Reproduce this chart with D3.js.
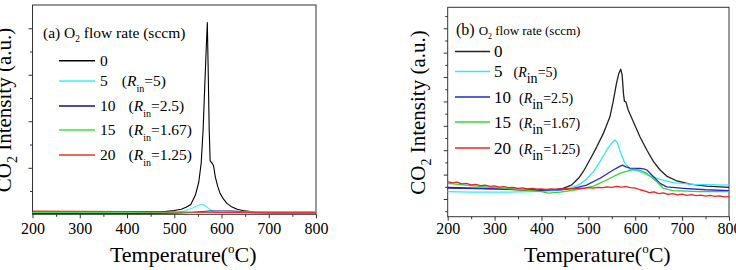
<!DOCTYPE html>
<html lang="en">
<head>
  <meta charset="UTF-8">
  <script src="https://cdn.jsdelivr.net/npm/d3@7"></script>
  <style>
    body { margin: 0; background: #fff; }
    svg, text, tspan { font-family: "Liberation Serif", "Times New Roman", serif; }
    text { fill: #000; }
  </style>
  <title>CO2 TPO</title>
</head>
<body>
<svg class="svg" width="736" height="270" font-family="Liberation Serif"></svg>
<script>
  // ---- data: [temperature, intensity] ----
  const flowRates = ["0", "5", "10", "15", "20"]
  const rinLabels = [null, "5", "2.5", "1.67", "1.25"]
  const tempTicks = [200, 300, 400, 500, 600, 700, 800]

  // panel (a)
  const a0 = [[200,0.05],[300,0.05],[400,0.05],[480,0.06],[500,0.08],[515,0.11],[525,0.15],[535,0.21],[545,0.42],[552,0.7],
    [557,1.1],[561,1.8],[564,2.6],[567,3.4],[570,4.12],[572,3.0],[574,1.8],[576,1.15],[580,1.1],[583,1.05],[587,0.8],
    [592,0.6],[597,0.45],[604,0.33],[611,0.24],[620,0.17],[633,0.11],[645,0.08],[661,0.06],[700,0.05],[800,0.05]]
  const a5 = [[200,0.03],[300,0.03],[400,0.03],[480,0.035],[510,0.05],[525,0.08],[540,0.14],[550,0.19],[557,0.21],[563,0.2],
    [570,0.15],[577,0.09],[585,0.06],[600,0.045],[630,0.04],[660,0.05],[700,0.055],[800,0.055]]
  const a10 = [[200,0.02],[300,0.02],[400,0.02],[480,0.025],[510,0.03],[540,0.045],[560,0.06],[575,0.07],[600,0.07],
    [625,0.068],[645,0.055],[665,0.035],[700,0.03],[800,0.03]]
  const a15 = [[200,0.04],[300,0.04],[400,0.04],[500,0.04],[550,0.045],[600,0.055],[650,0.05],[700,0.05],[800,0.05]]
  const a20 = [[200,0.07],[300,0.065],[400,0.06],[500,0.05],[600,0.04],[700,0.035],[800,0.035]]

  // panel (b)
  const b0 = [[200,1.48],[250,1.45],[300,1.42],[350,1.38],[400,1.35],[430,1.38],[446,1.44],[464,1.57],[472,1.72],[476,1.8],
    [479,1.85],[489,2.12],[503,2.6],[518,3.14],[532,3.69],[546,4.37],[553,5.0],[560,5.74],[565,6.15],[569,6.32],[572,6.1],
    [575,5.3],[577,5.0],[580,4.99],[585,4.65],[596,4.17],[610,3.55],[625,3.0],[639,2.53],[653,2.19],[667,1.94],[689,1.74],
    [717,1.61],[753,1.53],[800,1.48]]
  const b5 = [[200,1.3],[250,1.28],[300,1.28],[350,1.29],[400,1.31],[440,1.36],[461,1.44],[482,1.61],[496,1.81],[511,2.12],
    [525,2.53],[539,3.0],[550,3.3],[557,3.42],[562,3.3],[567,3.0],[578,2.46],[589,2.22],[600,2.16],[610,2.12],[632,1.94],
    [653,1.81],[681,1.67],[724,1.6],[800,1.57]]
  const b10 = [[200,1.45],[300,1.42],[400,1.38],[440,1.38],[468,1.44],[496,1.57],[525,1.85],[553,2.19],[566,2.33],[573,2.39],
    [580,2.32],[589,2.27],[600,2.26],[610,2.26],[618,2.24],[625,2.19],[639,1.91],[653,1.64],[667,1.5],[703,1.44],[750,1.38],[800,1.34]]
  const b15 = [[200,1.64],[250,1.55],[300,1.47],[350,1.4],[400,1.3],[415,1.24],[440,1.28],[480,1.4],[511,1.53],[539,1.78],
    [567,2.05],[596,2.22],[610,2.18],[625,2.05],[646,1.71],[660,1.44],[681,1.34],[738,1.3],[800,1.3]]
  const b20 = [[200,1.71],[210,1.66],[220,1.69],[230,1.62],[240,1.64],[250,1.58],[260,1.6],[270,1.55],[280,1.57],[290,1.52],
    [300,1.54],[310,1.49],[320,1.51],[330,1.47],[340,1.48],[350,1.44],[360,1.46],[370,1.42],[380,1.44],[390,1.4],[400,1.42],
    [410,1.39],[420,1.41],[430,1.4],[440,1.42],[450,1.41],[460,1.44],[470,1.42],[480,1.45],[490,1.44],[500,1.47],[510,1.45],
    [520,1.48],[530,1.47],[540,1.5],[550,1.48],[560,1.52],[570,1.49],[580,1.51],[590,1.47],[600,1.45],[610,1.38],[620,1.33],
    [630,1.26],[640,1.29],[650,1.22],[660,1.25],[670,1.19],[680,1.22],[690,1.17],[700,1.2],[710,1.15],[720,1.18],[730,1.14],
    [740,1.16],[750,1.12],[760,1.15],[770,1.11],[780,1.13],[790,1.09],[800,1.1]]

  let svg = d3.select(".svg")
  const serif = "Liberation Serif, Times New Roman, serif"

  let panels = [
    {
      tag: "(a)", series: [a0, a5, a10, a15, a20],
      colors: ["#000000", "#3ef0f4", "#12128c", "#44e044", "#e83434"], width: 1.1,
      xr: [32.5, 316], yr: [214.3, 5], yd: [0, 4.5], yMajor: [1, 2, 3, 4], yMinor: [0.5, 1.5, 2.5, 3.5],
      tickPad: 4.5, yTitleX: 11, yTitleY: 110,
      leg: {tx: 43, ty: 38, titleSize: 15.5, subSize: 15.5, x1: 59, x2: 95, ys: [60.7, 81, 106, 130, 155], lx: 100,
            fs: 15.5, gap: [0, 14, 13, 13, 13], rinSize: 15.5, inSize: 10}
    },
    {
      tag: "(b)", series: [b0, b5, b10, b15, b20],
      colors: ["#222222", "#34e8f2", "#2727cc", "#36d436", "#e82424"], width: 1.3,
      xr: [447.7, 729], yr: [216.7, 7.3], yd: [0.275, 8.86], yMajor: [1, 2, 3, 4, 5, 6, 7, 8],
      yMinor: [0.5, 1.5, 2.5, 3.5, 4.5, 5.5, 6.5, 7.5, 8.5],
      tickPad: 2, yTitleX: 425, yTitleY: 112.5,
      leg: {tx: 456, ty: 35, titleSize: 16, subSize: 13, x1: 455, x2: 490, ys: [51.5, 71.5, 97, 122, 148], lx: 494,
            fs: 17, gap: [0, 11, 8, 8, 8], rinSize: 14, inSize: 14}
    }
  ]

  panels.forEach(p => drawPanel(p))

  function drawPanel(p) {
    let x = d3.scaleLinear().domain([200, 800]).range(p.xr)
    let y = d3.scaleLinear().domain(p.yd).range(p.yr)
    let g = svg.append("g").attr("font-family", serif)

    // frame
    g.append("rect")
      .attr("x", p.xr[0]).attr("y", p.yr[1])
      .attr("width", p.xr[1] - p.xr[0]).attr("height", p.yr[0] - p.yr[1])
      .attr("fill", "none").attr("stroke", "#333").attr("stroke-width", 1)

    // bottom axis
    g.append("g")
      .attr("transform", `translate(0,${p.yr[0]})`)
      .call(d3.axisBottom(x).tickValues(tempTicks).tickSize(4).tickPadding(p.tickPad).tickFormat(d3.format("d")))
      .attr("font-family", serif).attr("font-size", 16)
      .call(a => a.select(".domain").remove())
    g.append("g")
      .attr("transform", `translate(0,${p.yr[0]})`)
      .call(d3.axisBottom(x).tickValues([250, 350, 450, 550, 650, 750]).tickSize(2.5).tickFormat(""))
      .call(a => a.select(".domain").remove())

    // left axis (no labels)
    g.append("g")
      .attr("transform", `translate(${p.xr[0]},0)`)
      .call(d3.axisLeft(y).tickValues(p.yMajor).tickSize(4).tickFormat(""))
      .call(a => a.select(".domain").remove())
    g.append("g")
      .attr("transform", `translate(${p.xr[0]},0)`)
      .call(d3.axisLeft(y).tickValues(p.yMinor).tickSize(2.5).tickFormat(""))
      .call(a => a.select(".domain").remove())
    g.selectAll(".tick line").attr("stroke", "#333")

    // curves
    let line = d3.line().x(d => x(d[0])).y(d => y(d[1]))
    g.append("g")
      .selectAll("path")
      .data(p.series)
      .join("path")
      .attr("d", line)
      .attr("fill", "none")
      .attr("stroke", (d, i) => p.colors[i])
      .attr("stroke-width", p.width)
      .attr("stroke-linejoin", "round")

    // x title
    let xt = g.append("text")
      .attr("x", (p.xr[0] + p.xr[1]) / 2 + 9).attr("y", 262)
      .attr("text-anchor", "middle").attr("font-size", 22)
    xt.append("tspan").text("Temperature(")
    xt.append("tspan").attr("font-size", 13).attr("dy", -9).text("o")
    xt.append("tspan").attr("dy", 9).text("C)")

    // y title
    let yt = g.append("text")
      .attr("transform", `translate(${p.yTitleX},${p.yTitleY}) rotate(-90)`)
      .attr("text-anchor", "middle").attr("font-size", 21)
    yt.append("tspan").text("CO")
    yt.append("tspan").attr("font-size", 14).attr("dy", 6).text("2")
    yt.append("tspan").attr("dy", -6).text(" Intensity (a.u.)")

    // legend
    let L = p.leg
    let tt = g.append("text").attr("x", L.tx).attr("y", L.ty).attr("font-size", L.titleSize)
    tt.append("tspan").text(p.tag + " ")
    tt.append("tspan").attr("font-size", L.subSize).text("O")
    tt.append("tspan").attr("font-size", L.subSize * 0.6).attr("dy", 4).text("2")
    tt.append("tspan").attr("font-size", L.subSize).attr("dy", -4).text(" flow rate (sccm)")

    flowRates.forEach((f, i) => {
      g.append("line")
        .attr("x1", L.x1).attr("x2", L.x2).attr("y1", L.ys[i]).attr("y2", L.ys[i])
        .attr("stroke", p.colors[i]).attr("stroke-width", p.width + 0.3)
      let t = g.append("text").attr("x", L.lx).attr("y", L.ys[i] + L.fs * 0.34).attr("font-size", L.fs)
      t.append("tspan").text(f)
      if (rinLabels[i]) {
        t.append("tspan").attr("dx", L.gap[i]).attr("font-size", L.rinSize).text("(")
        t.append("tspan").attr("font-size", L.rinSize).attr("font-style", "italic").text("R")
        t.append("tspan").attr("font-size", L.inSize).attr("dy", 6).text("in")
        t.append("tspan").attr("font-size", L.rinSize).attr("dy", -6).text("=" + rinLabels[i] + ")")
      }
    })
  }
</script>
</body>
</html>
